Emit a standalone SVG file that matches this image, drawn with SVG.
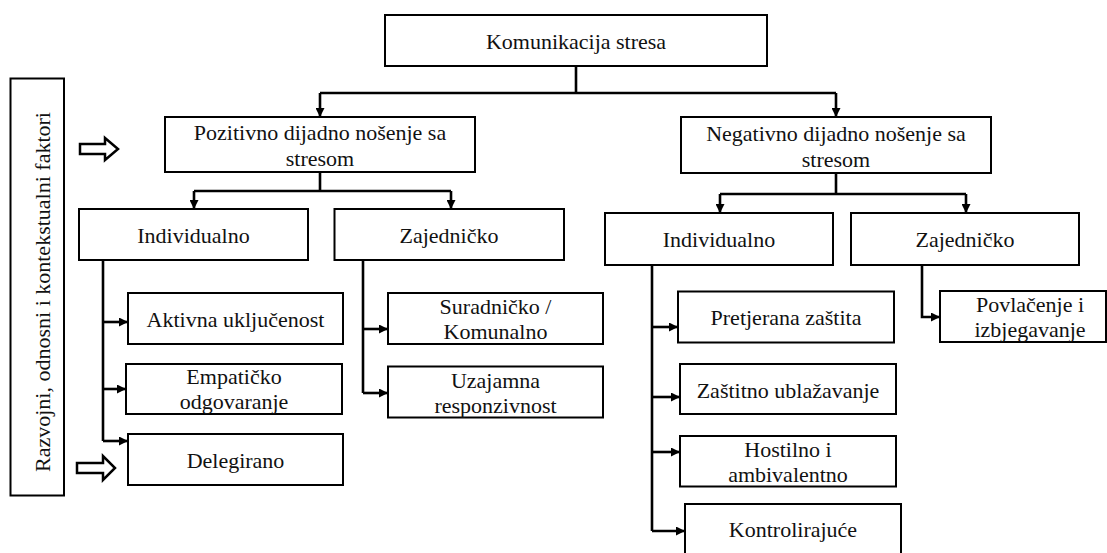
<svg xmlns="http://www.w3.org/2000/svg" width="1107" height="553" viewBox="0 0 1107 553">
<style>
.box{fill:#fff;stroke:#000;stroke-width:2}
text{font-family:'Liberation Serif','Times New Roman','DejaVu Serif',serif;font-size:22px;fill:#111;text-anchor:middle}
.c{fill:none;stroke:#000;stroke-width:2.6}
.a{marker-end:url(#ah)}
.ha{fill:#fff;stroke:#000;stroke-width:2.5;stroke-linejoin:miter}
</style>
<defs>
<marker id="ah" markerUnits="userSpaceOnUse" markerWidth="9" markerHeight="9" refX="9" refY="4.5" orient="auto">
<path d="M0,0 L9,4.5 L0,9 z" fill="#000"/>
</marker>
</defs>
<rect width="1107" height="553" fill="#fff"/>

<g id="connectors">
<polyline class="c" points="576,66 576,93"/>
<polyline class="c" points="320,93 836,93"/>
<polyline class="c a" points="320,93 320,117"/>
<polyline class="c a" points="836,93 836,117"/>

<polyline class="c" points="320,172 320,191"/>
<polyline class="c" points="194,191 451,191"/>
<polyline class="c a" points="194,191 194,209"/>
<polyline class="c a" points="451,191 451,209"/>

<polyline class="c" points="836,173 836,194"/>
<polyline class="c" points="720,194 966,194"/>
<polyline class="c a" points="720,194 720,213"/>
<polyline class="c a" points="966,194 966,213"/>

<polyline class="c" points="103,260 103,441"/>
<polyline class="c a" points="103,322 128,322"/>
<polyline class="c a" points="103,389 126,389"/>
<polyline class="c a" points="103,441 128,441"/>

<polyline class="c" points="363,260 363,393"/>
<polyline class="c a" points="363,329 388,329"/>
<polyline class="c a" points="363,393 388,393"/>

<polyline class="c" points="652,265 652,531"/>
<polyline class="c a" points="652,327 678,327"/>
<polyline class="c a" points="652,397 680,397"/>
<polyline class="c a" points="652,452 680,452"/>
<polyline class="c a" points="652,531 685,531"/>

<polyline class="c a" points="922,265 922,317 940,317"/>
</g>

<g id="factors">
<rect class="box" x="10.5" y="78.5" width="53.5" height="417"/>
<text font-family="Liberation Serif, serif" transform="translate(50,292) rotate(-90)">Razvojni, odnosni i kontekstualni faktori</text>
</g>
<g id="arrow-in-1">
<polygon class="ha" points="80,144 105,144 105,138 118,149 105,160 105,154 80,154"/>
</g>
<g id="arrow-in-2">
<polygon class="ha" points="77,463 103,463 103,456 115,468 103,480 103,473 77,473"/>
</g>

<g id="root">
<rect class="box" x="385" y="15" width="382" height="51"/>
<text x="576" y="49">Komunikacija stresa</text>
</g>

<g id="pozitivno">
<rect class="box" x="165" y="117" width="310" height="55"/>
<text x="320" y="140">Pozitivno dijadno nošenje sa</text>
<text x="320" y="166">stresom</text>
</g>
<g id="negativno">
<rect class="box" x="681" y="117" width="310" height="56"/>
<text x="836" y="141">Negativno dijadno nošenje sa</text>
<text x="836" y="167">stresom</text>
</g>

<g id="poz-individualno">
<rect class="box" x="79" y="209" width="229" height="51"/>
<text x="193.5" y="243">Individualno</text>
</g>
<g id="poz-zajednicko">
<rect class="box" x="334.5" y="209" width="229.5" height="51"/>
<text x="449" y="243">Zajedničko</text>
</g>
<g id="neg-individualno">
<rect class="box" x="605" y="213" width="228" height="52"/>
<text x="719" y="247">Individualno</text>
</g>
<g id="neg-zajednicko">
<rect class="box" x="851" y="213" width="228" height="52"/>
<text x="965" y="247">Zajedničko</text>
</g>

<g id="aktivna">
<rect class="box" x="128" y="293" width="215" height="51"/>
<text x="235.5" y="327">Aktivna uključenost</text>
</g>
<g id="empaticko">
<rect class="box" x="126" y="364" width="216" height="50"/>
<text x="234" y="384">Empatičko</text>
<text x="234" y="409">odgovaranje</text>
</g>
<g id="delegirano">
<rect class="box" x="128" y="434" width="215" height="51"/>
<text x="235.5" y="468">Delegirano</text>
</g>

<g id="suradnicko">
<rect class="box" x="388" y="293" width="215" height="51"/>
<text x="495.5" y="314">Suradničko /</text>
<text x="495.5" y="339">Komunalno</text>
</g>
<g id="uzajamna">
<rect class="box" x="388" y="366.5" width="215" height="51"/>
<text x="495.5" y="388">Uzajamna</text>
<text x="495.5" y="413">responzivnost</text>
</g>

<g id="pretjerana">
<rect class="box" x="678" y="291.5" width="216" height="51"/>
<text x="786" y="325">Pretjerana zaštita</text>
</g>
<g id="zastitno">
<rect class="box" x="680" y="364" width="216" height="50"/>
<text x="788" y="398">Zaštitno ublažavanje</text>
</g>
<g id="hostilno">
<rect class="box" x="680" y="436" width="216" height="50.5"/>
<text x="788" y="457">Hostilno i</text>
<text x="788" y="482">ambivalentno</text>
</g>
<g id="kontrolirajuce">
<rect class="box" x="685" y="504" width="216" height="60"/>
<text x="793" y="537">Kontrolirajuće</text>
</g>

<g id="povlacenje">
<rect class="box" x="940" y="291" width="166" height="51"/>
<text x="1030" y="312">Povlačenje i</text>
<text x="1030" y="337">izbjegavanje</text>
</g>
</svg>
